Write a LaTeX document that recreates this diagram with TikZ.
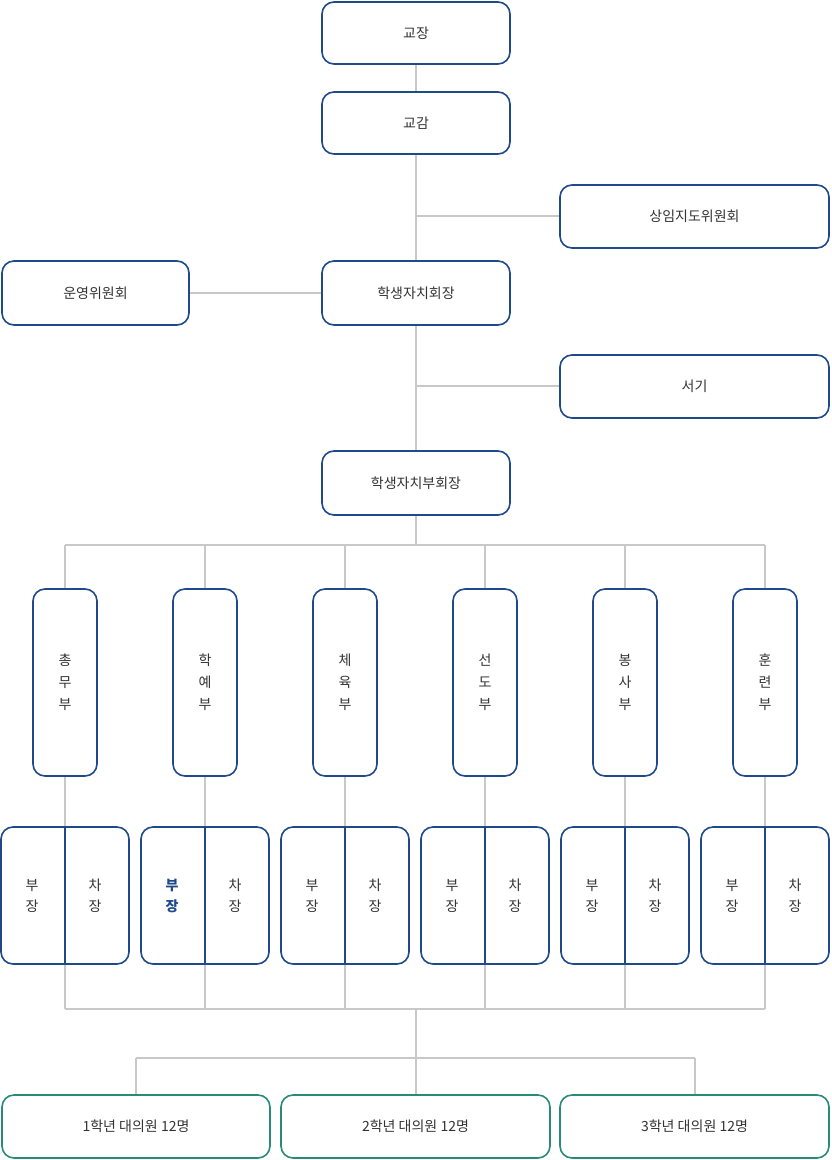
\documentclass[tikz,border=0pt]{standalone}
\usepackage{fontspec}
\setmainfont{Noto Sans CJK KR}
\begin{document}
\begin{tikzpicture}[x=1pt,y=-1pt,
 box/.style={draw=bl,line width=1.6pt,rounded corners=12pt,fill=white,text=tx,font=\fontsize{14}{16}\selectfont,inner sep=0pt},
 gbox/.style={box,draw=gr},
 ln/.style={draw=lg,line width=1.6pt}]
\definecolor{bl}{HTML}{1F4A8A}\definecolor{gr}{HTML}{2A8A78}\definecolor{lg}{HTML}{C8C8C8}\definecolor{tx}{HTML}{333333}
\useasboundingbox (0,0) rectangle (831,1160);
% lines
\draw[ln] (416,64)--(416,92);
\draw[ln] (416,154)--(416,261);
\draw[ln] (416,216)--(560,216);
\draw[ln] (189,293)--(322,293);
\draw[ln] (416,325)--(416,451);
\draw[ln] (416,386)--(560,386);
\draw[ln] (416,515)--(416,545);
\draw[ln] (65,545)--(765,545);
\draw[ln] (65,1009)--(765,1009);
\foreach \x in {65,205,345,485,625,765}{\draw[ln] (\x,545)--(\x,1009);}
\draw[ln] (416,1009)--(416,1058);
\draw[ln] (136,1058)--(695,1058);
\foreach \x in {136,416,695}{\draw[ln] (\x,1058)--(\x,1095);}
% top boxes
\node[box,minimum width=188pt,minimum height=62pt] (a) at (416,33) {교장};
\node[box,minimum width=188pt,minimum height=62pt] (b) at (416,123) {교감};
\node[box,minimum width=269pt,minimum height=63pt] (c) at (694.5,216.5) {상임지도위원회};
\node[box,minimum width=187pt,minimum height=64pt] (d) at (95.5,293) {운영위원회};
\node[box,minimum width=188pt,minimum height=64pt] (e) at (416,293) {학생자치회장};
\node[box,minimum width=269pt,minimum height=63pt] (f) at (694.5,386.5) {서기};
\node[box,minimum width=188pt,minimum height=64pt] (g) at (416,483) {학생자치부회장};
% departments
\foreach \x/\t/\n in {65/{총\\무\\부}/d1,205/{학\\예\\부}/d2,345/{체\\육\\부}/d3,485/{선\\도\\부}/d4,625/{봉\\사\\부}/d5,765/{훈\\련\\부}/d6}{
 \node[box,minimum width=64pt,minimum height=187pt,align=center,font=\fontsize{14}{22}\selectfont] (\n) at (\x,682.5) {\t};
 \node[box,minimum width=128pt,minimum height=137pt] (s\n) at (\x,895.5) {};
 \draw[draw=bl,line width=1.6pt] (\x,827)--(\x,964);
 \node[align=center,text=tx,font=\fontsize{14}{21}\selectfont] (c\n) at (\x+30,896) {차\\장};
}
\foreach \x/\n in {65/1,345/3,485/4,625/5,765/6}{\node[align=center,text=tx,font=\fontsize{14}{21}\selectfont] (b\n) at (\x-33,896) {부\\장};}
\node[align=center,text=bl,font=\bfseries\fontsize{14}{21}\selectfont] (b2) at (172,896) {부\\장};
% bottom
\node[gbox,minimum width=268pt,minimum height=63pt] (h1) at (136,1126.5) {1학년 대의원 12명};
\node[gbox,minimum width=269pt,minimum height=63pt] (h2) at (415.5,1126.5) {2학년 대의원 12명};
\node[gbox,minimum width=269pt,minimum height=63pt] (h3) at (694.5,1126.5) {3학년 대의원 12명};
\end{tikzpicture}
\end{document}
